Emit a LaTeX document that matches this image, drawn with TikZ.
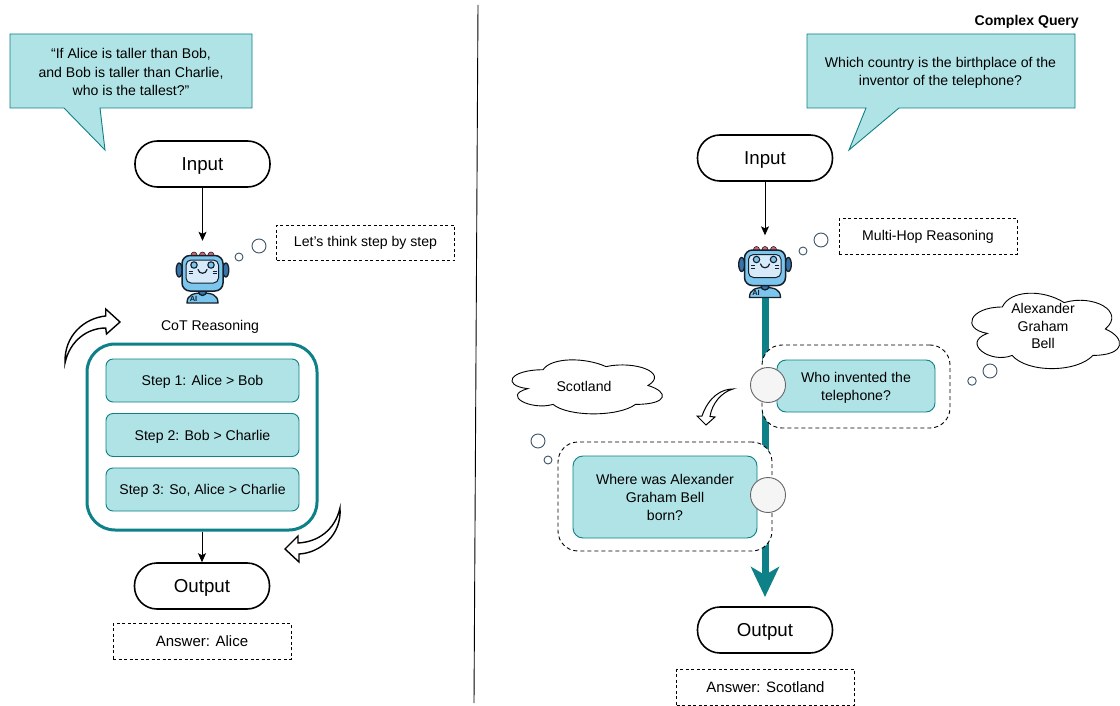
\documentclass[tikz,border=0pt]{standalone}
\usepackage{fontspec}
\setmainfont{Liberation Sans}
\usetikzlibrary{arrows.meta,positioning,calc}
\definecolor{tealfill}{HTML}{B0E3E6}
\definecolor{tealline}{HTML}{0E8088}
\definecolor{bubble}{HTML}{3E5468}
\definecolor{robotblue}{HTML}{7CC6EE}
\definecolor{robotdark}{HTML}{3A72A6}
\definecolor{robotscreen}{HTML}{D6EAFA}
\definecolor{robotred}{HTML}{E0606E}
\definecolor{robotline}{HTML}{15202B}
\tikzset{
  x=1pt,y=-1pt,
  pill/.style={draw=black,line width=1.6pt,fill=white,rounded corners=22.5pt,minimum width=135pt,minimum height=46pt,inner sep=0pt,text height=13.5pt,text depth=0pt,font=\fontsize{18.7}{20}\selectfont},
  dashbox/.style={draw=black,line width=.8pt,dash pattern=on 3pt off 2.5pt,fill=white,minimum width=178pt,minimum height=35.5pt,inner sep=0pt,font=\fontsize{14.1}{16}\selectfont},
  ansbox/.style={dashbox,font=\fontsize{15}{17}\selectfont},
  stepbox/.style={draw=tealline,line width=.9pt,fill=tealfill,rounded corners=7pt,minimum width=193pt,minimum height=43pt,inner sep=0pt,align=center,font=\fontsize{14.1}{18}\selectfont},
  onestep/.style={stepbox,text height=10.5pt,text depth=0pt},
  callout/.style={draw=tealline,line width=.9pt,fill=tealfill,line join=miter},
  calltext/.style={align=center,inner sep=0pt,font=\fontsize{14.1}{18.7}\selectfont},
  plain/.style={align=center,inner sep=0pt,font=\fontsize{14.1}{17.7}\selectfont},
  conn/.style={draw=black,line width=.9pt,-{Stealth[length=9pt,width=8pt,inset=2pt]}},
  hopbox/.style={draw=black,line width=.9pt,dash pattern=on 4pt off 3pt,fill=white,rounded corners=20pt,inner sep=0pt},
  hopdot/.style={circle,draw=black!60,line width=.9pt,fill=black!4,minimum size=35pt,inner sep=0pt},
  thoughtdot/.style={circle,draw=bubble,line width=.9pt,fill=white,inner sep=0pt},
  robotspace/.style={minimum width=52pt,minimum height=62pt,inner sep=0pt},
  curved/.style={draw=black,line width=1.4pt,fill=white,line join=miter},
  cloudline/.style={draw=black,line width=.9pt,fill=white},
}
% robot drawn about the point (#1,#2) = top-left of its 51x51 body box
\newcommand{\robotpic}[2]{%
\begin{scope}[shift={(#1,#2)}]
  \foreach \a in {17,25.5,34}{\fill[robotred,draw=robotline,line width=.6pt] (\a,3) circle (3);}
  \draw[robotline,line width=1.3pt,fill=robotdark] (2.2,18) ellipse (3 and 7);
  \draw[robotline,line width=1.3pt,fill=robotdark] (48.8,18) ellipse (3 and 7);
  \draw[robotline,line width=1.3pt,fill=robotblue] (10,51) .. controls (10,43) and (16,41) .. (25.5,41) .. controls (35,41) and (41,43) .. (41,51) -- cycle;
  \draw[robotline,line width=1.3pt,fill=robotdark] (25.5,39.5) circle (4);
  \draw[robotline,line width=1.5pt,fill=robotblue,rounded corners=8pt] (5,3.5) rectangle (46,39);
  \draw[robotline,line width=1pt,fill=robotscreen,rounded corners=5pt] (9,8) rectangle (41.5,31);
  \draw[robotline,line width=1.1pt,fill=robotblue] (17,13) circle (3.2);
  \draw[robotline,line width=1.1pt,fill=robotblue] (34,13) circle (3.2);
  \draw[robotline,line width=1.2pt,line cap=round] (21,17.5) .. controls (22,22.5) and (29,22.5) .. (30,17.5);
  \draw[robotline,line width=.8pt] (11.5,19) -- (15.5,19) (11.5,21.5) -- (15.5,21.5) (35.5,19) -- (39.5,19) (35.5,21.5) -- (39.5,21.5);
  \node[inner sep=0pt,text=robotline,font=\bfseries\fontsize{7.5}{7.5}\selectfont] at (16.5,46.5) {AI};
\end{scope}}
% draw.io style cloud: x0,y0,w,h
\newcommand{\cloudpic}[4]{%
\begin{scope}[shift={(#1,#2)},x=#3pt,y=-#4pt]
  \draw[cloudline] (.25,.25) .. controls (.05,.25) and (0,.5) .. (.16,.55)
    .. controls (0,.66) and (.18,.9) .. (.31,.8)
    .. controls (.4,1) and (.7,1) .. (.8,.8)
    .. controls (1,.8) and (1,.6) .. (.875,.5)
    .. controls (1,.3) and (.8,.1) .. (.625,.2)
    .. controls (.5,.05) and (.3,.05) .. (.25,.25) -- cycle;
\end{scope}}
\begin{document}
\begin{tikzpicture}
\useasboundingbox (0,0) rectangle (1120,706);
\fill[white] (0,0) rectangle (1120,706);

% divider
\coordinate (divtop) at (478,5);
\coordinate (divbot) at (474,703);
\draw[black,line width=.9pt] (divtop) -- (divbot);

% ---------- left panel ----------
\draw[callout] (10,34) -- (252,34) -- (252,108) -- (100,108) -- (105,150) -- (64,108) -- (10,108) -- cycle;
\node[calltext] (qL) at (131,72) {“If Alice is taller than Bob,\\and Bob is taller than Charlie,\\who is the tallest?”};
\node[pill] (inL) at (202.5,164) {Input};
\node[robotspace] (robotL) at (202.5,272) {};
\robotpic{177}{252}
\node[thoughtdot,minimum size=14pt] (tl1) at (259,246) {};
\node[thoughtdot,minimum size=8pt] (tl2) at (239,257) {};
\node[dashbox] (thinkL) at (365.5,243) {Let’s think step by step};
\node[plain] (cotL) at (210,327) {CoT Reasoning};
\node[draw=tealline,line width=3pt,rounded corners=28pt,minimum width=230pt,minimum height=186pt,inner sep=0pt] (cot) at (202,437) {};
\node[onestep] (s1) at (202.5,380.5) {Step 1: Alice > Bob};
\node[onestep] (s2) at (202.5,435) {Step 2: Bob > Charlie};
\node[onestep] (s3) at (202.5,489.5) {Step 3: So, Alice > Charlie};
\node[pill] (outL) at (202,586) {Output};
\node[ansbox] (ansL) at (202,641.5) {Answer: Alice};
\draw[conn] (inL) -- (robotL);
\draw[conn] (cot) -- (outL);
% curved arrows
\draw[curved] (65,363) .. controls (64,335) and (85,318) .. (105.7,316) -- (105.7,309) -- (120,322) -- (106.5,334) -- (105.7,328) .. controls (88,328) and (70,340) .. (65,363) -- cycle;
\draw[curved] (340,508) .. controls (342,535) and (320,553) .. (299,554) -- (299,562) -- (285,549) -- (298,536) -- (298,543) .. controls (318,542) and (335,530) .. (340,508) -- cycle;

% ---------- right panel ----------
\node[plain,font=\bfseries\fontsize{14.1}{16}\selectfont,anchor=east] (cq) at (1079,22) {Complex Query};
\draw[callout] (807,34) -- (1075,34) -- (1075,108) -- (899,108) -- (849,150) -- (866,108) -- (807,108) -- cycle;
\node[calltext] (qR) at (940.5,73) {Which country is the birthplace of the\\inventor of the telephone?};
\node[pill] (inR) at (765,158) {Input};
\node[robotspace] (robotR) at (765,266.5) {};
\coordinate (tipR) at (765,597);
\draw[tealline,line width=7pt,-{Stealth[length=30pt,width=28pt,inset=8pt]}] (robotR.south) -- (tipR);
\robotpic{739.5}{246.5}
\node[thoughtdot,minimum size=14pt] (tr1) at (821,240) {};
\node[thoughtdot,minimum size=8pt] (tr2) at (803,251) {};
\node[dashbox] (thinkR) at (928,236.5) {Multi-Hop Reasoning};
\draw[conn] (inR) -- (robotR);
% hop 1
\node[hopbox,minimum width=188pt,minimum height=83pt] (hop1) at (856,386.5) {};
\node[stepbox,rounded corners=9pt,minimum width=158pt,minimum height=52pt] (q1) at (856,386) {\rule{0pt}{13pt}Who invented the\\telephone?};
\node[hopdot] (d1) at (768,385) {};
% hop 2
\node[hopbox,minimum width=214pt,minimum height=109pt] (hop2) at (665,496.5) {};
\node[stepbox,rounded corners=10pt,minimum width=184pt,minimum height=82pt] (q2) at (665,497) {Where was Alexander\\Graham Bell\\born?};
\node[hopdot] (d2) at (768,495) {};
% clouds
\cloudpic{501}{354}{168}{63}
\node[plain] (scot) at (584,386.5) {Scotland};
\cloudpic{961}{285}{165}{88}
\node[plain] (agb) at (1043,326) {Alexander\\Graham\\Bell};
\node[thoughtdot,minimum size=14pt] (ta1) at (990,371) {};
\node[thoughtdot,minimum size=8.5pt] (ta2) at (972,381) {};
\node[thoughtdot,minimum size=14pt] (ts1) at (538,441) {};
\node[thoughtdot,minimum size=8pt] (ts2) at (548,460) {};
\draw[curved,line width=1pt] (733,389) .. controls (722,389) and (709,396) .. (702,416) -- (697,416) -- (706,425) -- (715,417) -- (710,416.5) .. controls (712,403) and (722,392) .. (733,389) -- cycle;
\node[pill] (outR) at (765,630) {Output};
\node[ansbox] (ansR) at (765.5,687.5) {Answer: Scotland};
\end{tikzpicture}
\end{document}
